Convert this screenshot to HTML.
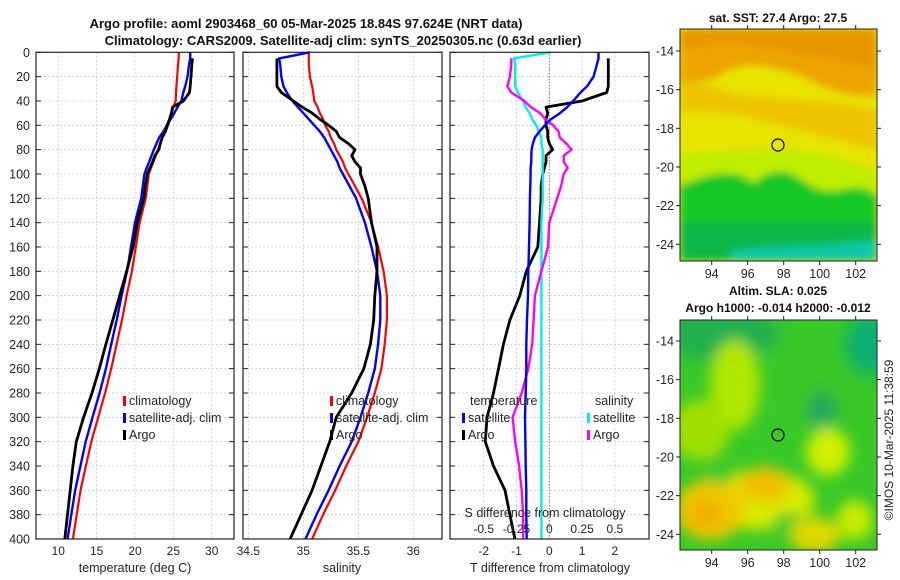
<!DOCTYPE html>
<html><head><meta charset="utf-8"><style>
body{margin:0;background:#fff;}
svg{display:block;font-family:"Liberation Sans","DejaVu Sans",sans-serif;}
</style></head><body>
<svg id="c" width="900" height="580" viewBox="0 0 900 580" xmlns="http://www.w3.org/2000/svg">
<defs>
<filter id="bl" x="-10%" y="-10%" width="120%" height="120%"><feGaussianBlur stdDeviation="4"/></filter>
<filter id="bl2" x="-20%" y="-20%" width="140%" height="140%"><feGaussianBlur stdDeviation="7"/></filter>
<clipPath id="m1"><rect x="680" y="29" width="197" height="232"/></clipPath>
<clipPath id="m2"><rect x="680" y="320" width="197" height="230"/></clipPath>
</defs>
<text x="306" y="28" text-anchor="middle" font-weight="bold" font-size="13" fill="#111">Argo profile: aoml 2903468_60 05-Mar-2025 18.84S 97.624E (NRT data)</text>
<text x="343" y="45" text-anchor="middle" font-weight="bold" font-size="13" fill="#111">Climatology: CARS2009. Satellite-adj clim: synTS_20250305.nc (0.63d earlier)</text>

<g clip-path="url(#m1)">
<rect x="680" y="29" width="197" height="232" fill="#e8e400"/>
<g filter="url(#bl)">
<path d="M680 29 H877 V95 C850 100 820 85 800 75 C770 65 740 60 720 75 C700 85 690 80 680 85 Z" fill="#eda400"/>
<path d="M680 29 H877 V70 C840 60 800 55 780 50 C740 40 700 45 680 50 Z" fill="#e89600"/>
<path d="M680 85 C700 80 720 90 740 95 C770 100 800 95 877 110 V150 C840 140 800 130 760 120 C730 112 700 110 680 110 Z" fill="#eec400"/>
<path d="M680 155 C700 150 740 152 770 150 C810 148 850 160 877 170 V200 L680 200 Z" fill="#c0ee00"/>
<path d="M680 185 C700 178 720 170 740 175 C750 180 755 185 760 178 C775 168 790 170 805 182 C820 195 840 190 850 188 C860 186 870 190 877 195 V261 H680 Z" fill="#18c828"/>
<path d="M680 222 H877 V261 H680 Z" fill="#10b848"/>
<path d="M730 252 C760 245 800 250 877 240 V261 H730 Z" fill="#10c8a8"/>
</g>
<circle cx="778" cy="145" r="6" fill="none" stroke="#000" stroke-width="1.2"/>
</g>
<rect x="680" y="29" width="197" height="232" fill="none" stroke="#222"/>
<text x="778" y="22" text-anchor="middle" font-weight="bold" font-size="12" fill="#111">sat. SST: 27.4 Argo: 27.5</text>

<g clip-path="url(#m2)">
<rect x="680" y="320" width="197" height="230" fill="#38c828"/>
<g filter="url(#bl2)">
<ellipse cx="720" cy="335" rx="60" ry="25" fill="#20b050"/>
<ellipse cx="870" cy="345" rx="25" ry="30" fill="#10b070"/>
<ellipse cx="822" cy="410" rx="15" ry="18" fill="#28a860"/>
<ellipse cx="735" cy="385" rx="25" ry="45" fill="#b0e800"/>
<ellipse cx="700" cy="430" rx="30" ry="30" fill="#a0e000"/>
<ellipse cx="828" cy="452" rx="22" ry="24" fill="#d0f000"/>
<ellipse cx="760" cy="500" rx="55" ry="30" fill="#d8ec00"/>
<ellipse cx="765" cy="485" rx="25" ry="18" fill="#f0c000"/>
<ellipse cx="710" cy="510" rx="35" ry="30" fill="#f0c800"/>
<ellipse cx="705" cy="515" rx="18" ry="14" fill="#f0b000"/>
<ellipse cx="720" cy="470" rx="16" ry="14" fill="#38c828"/>
<ellipse cx="790" cy="525" rx="18" ry="12" fill="#38c828"/>
<ellipse cx="815" cy="535" rx="25" ry="18" fill="#e0d800"/>
<ellipse cx="855" cy="520" rx="18" ry="20" fill="#c8ec00"/>
</g>
<circle cx="778" cy="435" r="6" fill="none" stroke="#000" stroke-width="1.2"/>
</g>
<rect x="680" y="320" width="197" height="230" fill="none" stroke="#222"/>
<text x="778" y="295" text-anchor="middle" font-weight="bold" font-size="12" fill="#111">Altim. SLA: 0.025</text>
<text x="778" y="312" text-anchor="middle" font-weight="bold" font-size="12" fill="#111">Argo h1000: -0.014 h2000: -0.012</text>
<text transform="translate(893,440) rotate(-90)" text-anchor="middle" font-size="12" fill="#222">©IMOS 10-Mar-2025 11:38:59</text>
<g id="dyn"></g>
</svg>
<script>
var depths=[0,5,10,20,28,33,40,45,50,55,60,65,70,75,80,85,90,95,100,110,120,140,160,180,200,220,240,260,280,300,320,340,360,380,400];
var tempClim=[25.7,25.7,25.6,25.5,25.4,25.35,25.3,25.0,24.8,24.6,24.3,24.0,23.6,23.3,23.0,22.7,22.4,22.1,21.8,21.6,21.4,20.6,20.1,19.6,18.9,18.3,17.6,16.9,16.1,15.2,14.3,13.6,12.9,12.4,11.9];
var tempSat=[27.2,27.2,27.05,26.85,26.55,26.3,26.03,25.55,25.13,24.65,24.17,23.7,23.16,22.8,22.46,22.15,21.85,21.53,21.23,21.02,20.81,20.0,19.48,18.96,18.25,17.62,16.9,16.2,15.38,14.46,13.57,12.88,12.2,11.7,11.21];
var tempArgo=[null,27.5,27.4,27.3,27.2,27.1,26.3,24.9,24.75,24.5,24.2,23.95,23.55,23.3,23.1,22.6,22.3,21.95,21.6,21.35,21.15,20.3,19.75,18.9,18.0,17.1,16.2,15.35,14.4,13.3,12.35,11.9,11.55,11.2,10.85];
var salClim=[35.05,35.05,35.05,35.06,35.08,35.09,35.1,35.13,35.15,35.18,35.2,35.23,35.25,35.28,35.3,35.33,35.36,35.38,35.41,35.47,35.53,35.62,35.68,35.73,35.76,35.76,35.74,35.71,35.65,35.58,35.50,35.39,35.29,35.18,35.08];
var salSat=[35.06,34.78,34.79,34.8,34.82,34.85,34.9,34.95,35.0,35.05,35.1,35.15,35.19,35.22,35.25,35.28,35.31,35.33,35.36,35.42,35.48,35.56,35.62,35.67,35.7,35.7,35.68,35.65,35.59,35.52,35.44,35.33,35.23,35.12,35.02];
var salArgo=[null,34.76,34.76,34.76,34.76,34.80,34.91,34.99,35.08,35.15,35.23,35.30,35.33,35.41,35.47,35.44,35.47,35.52,35.52,35.56,35.59,35.62,35.67,35.67,35.65,35.64,35.61,35.55,35.44,35.30,35.24,35.16,35.08,34.98,34.88];
var depthTicks=[0,20,40,60,80,100,120,140,160,180,200,220,240,260,280,300,320,340,360,380,400];
var tTicks=[10,15,20,25,30];
var sTicks=[34.5,35,35.5,36];
var dTTicks=[-2,-1,0,1,2];
var dSTicks=[-0.5,-0.25,0,0.25,0.5];
var lonTicks=[94,96,98,100,102];
var latTicks=[-14,-16,-18,-20,-22,-24];

var NS="http://www.w3.org/2000/svg";
var G=document.getElementById('dyn');
function mk(t,a,p){var e=document.createElementNS(NS,t);for(var k in a)e.setAttribute(k,a[k]);(p||G).appendChild(e);return e;}
var top0=52.3,bot=539;
function yD(d){return top0+(bot-top0)*d/400;}
function xT(v){return 58.3+(v-10)*7.67;}
function xS(v){return 248.3+(v-34.5)*110;}
function xDT(v){return 549.3+v*32.8;}
function xDS(v){return 549.3+v*131.2;}
var panels=[{x0:36,x1:234,name:'temperature-panel'},{x0:243,x1:442,name:'salinity-panel'},{x0:450,x1:649,name:'difference-panel'}];
var vgrid=[tTicks.map(xT),sTicks.map(xS),dTTicks.map(xDT)];
panels.forEach(function(p,i){
  var g=mk('g',{});
  
  
  depthTicks.forEach(function(d){
    var y=yD(d);
    if(d>0&&d<400){var l=mk('line',{x1:p.x0,x2:p.x1,y1:y,y2:y,stroke:'#c4c8e4','stroke-width':0.8,'stroke-dasharray':'2,2'},g);
    
    }
    mk('line',{x1:p.x0,x2:p.x0+5,y1:y,y2:y,stroke:'#222'},g);
    mk('line',{x1:p.x1-5,x2:p.x1,y1:y,y2:y,stroke:'#222'},g);
  });
  vgrid[i].forEach(function(x){
    var l=mk('line',{x1:x,x2:x,y1:top0,y2:bot,stroke:'#c4c8e4','stroke-width':0.8,'stroke-dasharray':'2,2'},g);
    
    
  });
});
var z=mk('line',{x1:xDT(0),x2:xDT(0),y1:top0,y2:bot,stroke:'#555','stroke-width':1,'stroke-dasharray':'1,2'});



function line(xs,xf,col,name,w){
  var pts=[];
  for(var i=0;i<depths.length;i++){if(xs[i]==null)continue;pts.push(xf(xs[i]).toFixed(1)+','+yD(depths[i]).toFixed(1));}
  var e=mk('polyline',{points:pts.join(' '),fill:'none',stroke:col,'stroke-width':w||2.6,'stroke-linejoin':'round'});
  
  
}
line(tempClim,xT,'#ff0000','temp-climatology-line',2.2);
line(tempSat,xT,'#0000ff','temp-satellite-line',2.4);
line(tempArgo,xT,'#000','temp-argo-line',2.8);
line(salClim,xS,'#ff0000','sal-climatology-line',2.2);
line(salSat,xS,'#0000ff','sal-satellite-line',2.4);
line(salArgo,xS,'#000','sal-argo-line',2.8);
function diff(a,b){return a.map(function(v,i){return v==null?null:v-b[i];});}
line(diff(tempArgo,tempClim),xDT,'#000','temp-diff-argo-line',2.8);
line(diff(salSat,salClim),xDS,'#00eeee','sal-diff-satellite-line',2.4);
line(diff(salArgo,salClim),xDS,'#ff00ff','sal-diff-argo-line',2.4);
line(diff(tempSat,tempClim),xDT,'#0000ff','temp-diff-satellite-line',2.4);

panels.forEach(function(p){var r=mk('rect',{x:p.x0,y:top0,width:p.x1-p.x0,height:bot-top0,fill:'none',stroke:'#222','stroke-width':1.2});

});
depthTicks.forEach(function(d){var t=mk('text',{x:30,y:yD(d)+4.5,'text-anchor':'end','font-size':12.5,fill:'#262626'});t.textContent=d;

});
function xlabels(ticks,xf,y){ticks.forEach(function(v){var t=mk('text',{x:xf(v),y:y,'text-anchor':'middle','font-size':12,fill:'#262626'});t.textContent=v;

});}
xlabels(tTicks,xT,555);
xlabels(sTicks,xS,555);
xlabels(dTTicks,xDT,555);
xlabels(dSTicks,xDS,533);
function txt(s,x,y,size,name,anchor,col){var t=mk('text',{x:x,y:y,'font-size':size,fill:col||'#262626','text-anchor':anchor||'start'});t.textContent=s;

return t;}
txt('temperature (deg C)',135,572,12.5,'x-axis-title-temperature','middle');
txt('salinity',342,572,12.5,'x-axis-title-salinity','middle');
txt('T difference from climatology',550,572,12.5,'x-axis-title-t-diff','middle');
txt('S difference from climatology',545,517,12.5,'x-axis-title-s-diff','middle');
function leg(x,y,col,label,name){var r=mk('rect',{x:x,y:y-9,width:3,height:10,fill:col});

txt(label,x+6,y,12.5,name);}
leg(123,405,'#ff0000','climatology','legend-climatology');
leg(123,422,'#0000ff','satellite-adj. clim','legend-satellite');
leg(123,439,'#000','Argo','legend-argo');
leg(330,405,'#ff0000','climatology','legend-climatology-sal');
leg(330,422,'#0000ff','satellite-adj. clim','legend-satellite-sal');
leg(330,439,'#000','Argo','legend-argo-sal');
txt('temperature',470,405,12.5,'legend-temperature-header');
leg(462,422,'#0000ff','satellite','legend-temp-satellite');
leg(462,439,'#000','Argo','legend-temp-argo');
txt('salinity',595,405,12.5,'legend-salinity-header');
leg(587,422,'#00eeee','satellite','legend-sal-satellite');
leg(587,439,'#ff00ff','Argo','legend-sal-argo');
function xLon(v){return 711.7+(v-94)*18;}
function yLat1(v){return 51+(-14-v)*19.33;}
function yLat2(v){return 341+(-14-v)*19.33;}
[[29,261,yLat1],[320,550,yLat2]].forEach(function(m){
  lonTicks.forEach(function(v){var x=xLon(v);mk('line',{x1:x,x2:x,y1:m[1],y2:m[1]+4,stroke:'#222'});mk('line',{x1:x,x2:x,y1:m[0],y2:m[0]-4,stroke:'#222'});
  txt(String(v),x,m[1]+17,12.5,'lon-tick-label','middle');});
  latTicks.forEach(function(v){var y=m[2](v);mk('line',{x1:676,x2:680,y1:y,y2:y,stroke:'#222'});mk('line',{x1:877,x2:881,y1:y,y2:y,stroke:'#222'});
  txt(String(v),674,y+4.5,12.5,'lat-tick-label','end');});
});
</script>
</body></html>
